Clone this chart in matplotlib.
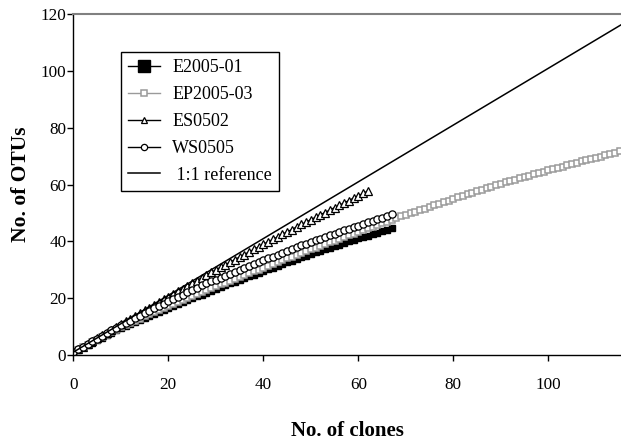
import matplotlib
matplotlib.use('Agg')
import matplotlib.pyplot as plt

# %% Data

# clone index starts at 0 for the first clone
e2005_01 = [1.0, 1.9, 2.7, 3.6, 4.4, 5.3, 6.1, 7.0, 7.8, 8.7,
            9.5, 10.2, 10.9, 11.7, 12.4, 13.1, 13.8, 14.5, 15.3, 16.0,
            16.7, 17.4, 18.0, 18.7, 19.3, 20.0, 20.7, 21.3, 22.0, 22.6,
            23.3, 23.9, 24.6, 25.2, 25.8, 26.5, 27.1, 27.7, 28.3, 29.0,
            29.6, 30.2, 30.8, 31.4, 32.0, 32.6, 33.2, 33.8, 34.4, 35.0,
            35.6, 36.2, 36.7, 37.3, 37.8, 38.4, 38.9, 39.5, 40.0, 40.6,
            41.1, 41.6, 42.1, 42.6, 43.1, 43.6, 44.1, 44.6]

ep2005_03 = [1.0, 1.9, 2.8, 3.6, 4.5, 5.4, 6.3, 7.2, 8.0, 8.9,
             9.8, 10.6, 11.3, 12.1, 12.8, 13.6, 14.4, 15.1, 15.9, 16.6,
             17.4, 18.1, 18.8, 19.4, 20.1, 20.8, 21.5, 22.2, 22.8, 23.5,
             24.2, 24.9, 25.5, 26.2, 26.8, 27.5, 28.2, 28.8, 29.5, 30.1,
             30.8, 31.4, 32.1, 32.7, 33.4, 34.0, 34.6, 35.3, 35.9, 36.6,
             37.2, 37.8, 38.4, 39.1, 39.7, 40.3, 40.9, 41.5, 42.2, 42.8,
             43.4, 44.0, 44.6, 45.2, 45.8, 46.4, 47.0, 47.6, 48.2, 48.8,
             49.4, 50.0, 50.5, 51.1, 51.6, 52.2, 52.8, 53.3, 53.9, 54.4,
             55.0, 55.5, 56.1, 56.6, 57.1, 57.7, 58.2, 58.7, 59.2, 59.8,
             60.3, 60.8, 61.3, 61.7, 62.2, 62.7, 63.2, 63.7, 64.1, 64.6,
             65.1, 65.5, 66.0, 66.4, 66.9, 67.3, 67.7, 68.2, 68.6, 69.1,
             69.5, 69.9, 70.4, 70.8, 71.3, 71.7]

es0502 = [1.0, 2.0, 3.0, 4.0, 4.9, 5.9, 6.9, 7.9, 8.9, 9.9,
          10.9, 11.9, 12.8, 13.8, 14.8, 15.8, 16.7, 17.7, 18.7, 19.6,
          20.6, 21.5, 22.5, 23.4, 24.4, 25.3, 26.2, 27.2, 28.1, 29.1,
          30.0, 30.9, 31.8, 32.7, 33.6, 34.5, 35.4, 36.3, 37.2, 38.1,
          39.0, 39.9, 40.7, 41.6, 42.5, 43.4, 44.2, 45.1, 46.0, 46.8,
          47.7, 48.5, 49.4, 50.2, 51.1, 51.9, 52.7, 53.6, 54.4, 55.3,
          56.1, 56.9, 57.8]

ws0505 = [1.0, 2.0, 2.9, 3.9, 4.8, 5.8, 6.8, 7.7, 8.7, 9.5,
          10.4, 11.3, 12.1, 13.0, 13.8, 14.7, 15.6, 16.4, 17.3, 18.1,
          19.0, 19.8, 20.6, 21.3, 22.1, 22.9, 23.7, 24.5, 25.2, 25.9,
          26.6, 27.3, 28.0, 28.7, 29.4, 30.1, 30.8, 31.5, 32.1, 32.8,
          33.4, 34.1, 34.7, 35.4, 36.0, 36.7, 37.3, 38.0, 38.6, 39.2,
          39.8, 40.4, 41.0, 41.6, 42.2, 42.8, 43.4, 44.0, 44.5, 45.1,
          45.6, 46.2, 46.7, 47.3, 47.8, 48.4, 48.9, 49.5]

ref_x = [0, 120]
ref_y = [1, 121]

x_ticks = [0, 20, 40, 60, 80, 100]
y_ticks = [0, 20, 40, 60, 80, 100, 120]

# %% Plot

plt.rcParams['font.family'] = ['Liberation Serif', 'DejaVu Serif']

fig = plt.figure(figsize=(6.21, 4.43), dpi=100)
ax = fig.add_axes([0.118, 0.1986, 0.882, 0.769])

ax.plot(range(len(e2005_01)), e2005_01, color='black', lw=1.0, marker='s',
        ms=5.0, mfc='black', mec='black', mew=1.0, label='E2005-01')
ax.plot(range(len(ep2005_03)), ep2005_03, color='#9a9a9a', lw=1.0, marker='s',
        ms=4.8, mfc='white', mec='#9a9a9a', mew=1.1, label='EP2005-03')
ax.plot(range(len(es0502)), es0502, color='black', lw=1.0, marker='^',
        ms=6.0, mfc='white', mec='black', mew=0.9, label='ES0502')
ax.plot(range(len(ws0505)), ws0505, color='black', lw=1.0, marker='o',
        ms=5.2, mfc='white', mec='black', mew=0.9, label='WS0505')
ax.plot(ref_x, ref_y, color='black', lw=1.1, label=' 1:1 reference')

ax.set_xlim(0, 115.3)
ax.set_ylim(0, 120)
ax.set_xticks(x_ticks)
ax.set_yticks(y_ticks)

ax.spines['right'].set_visible(False)
ax.spines['top'].set_color('#808080')
ax.spines['top'].set_linewidth(1.5)
for s in ['left', 'bottom']:
    ax.spines[s].set_linewidth(1.0)

ax.tick_params(axis='both', direction='out', length=4, width=1, labelsize=12.3)
ax.tick_params(axis='x', pad=12)
ax.tick_params(axis='y', pad=1)

ax.set_xlabel('No. of clones', fontsize=15, fontweight='bold', labelpad=20)
ax.set_ylabel('No. of OTUs', fontsize=15.5, fontweight='bold', labelpad=7)

leg = ax.legend(loc='upper left', bbox_to_anchor=(0.0865, 0.89), borderaxespad=0,
                fontsize=13, frameon=True, fancybox=False, edgecolor='black',
                framealpha=1, handlelength=1.8, handletextpad=0.65,
                labelspacing=0.55, borderpad=0.4)
leg.get_frame().set_linewidth(1.0)
leg.legend_handles[0].set_markersize(8)
for h in leg.legend_handles[1:4]:
    h.set_markersize(4.5)

plt.savefig('out.png', dpi=100)
